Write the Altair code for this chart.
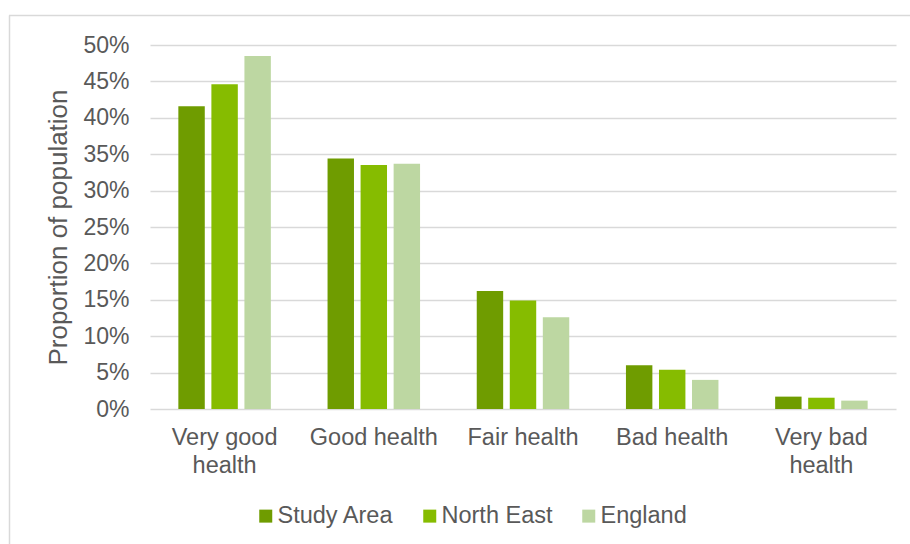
import altair as alt
import pandas as pd

categories = ["Very good health", "Good health", "Fair health", "Bad health", "Very bad health"]
label_lines = {
    "Very good health": ["Very good", "health"],
    "Very bad health": ["Very bad", "health"],
}
series = ["Study Area", "North East", "England"]
study_area = [0.416, 0.344, 0.162, 0.060, 0.017]
north_east = [0.446, 0.335, 0.149, 0.054, 0.0155]
england = [0.485, 0.337, 0.126, 0.040, 0.0115]
colors = ["#6f9c00", "#86bc00", "#bdd7a2"]
y_ticks = [0, 0.05, 0.10, 0.15, 0.20, 0.25, 0.30, 0.35, 0.40, 0.45, 0.50]

rows = []
for name, vals in zip(series, [study_area, north_east, england]):
    for c, v in zip(categories, vals):
        rows.append({"category": c, "series": name, "value": v})
df = pd.DataFrame(rows)

expr = "datum.value"
for k, lines in label_lines.items():
    expr = f"datum.value == '{k}' ? {lines} : ({expr})"

FONT = "Liberation Sans"
TXT = "#595959"
GRID = "#d9d9d9"

bars = alt.Chart(df).mark_bar().encode(
    x=alt.X("category:N", sort=categories, title=None,
            scale=alt.Scale(paddingInner=0.38, paddingOuter=0.19),
            axis=alt.Axis(labelAngle=0, labelExpr=expr, labelFontSize=23.5,
                          labelColor=TXT, labelFont=FONT, labelPadding=28,
                          labelLineHeight=28, ticks=False, domain=False,
                          labelBaseline="middle")),
    xOffset=alt.XOffset("series:N", sort=series,
                        scale=alt.Scale(paddingInner=0.2, paddingOuter=0)),
    y=alt.Y("value:Q", title="Proportion of population",
            scale=alt.Scale(domain=[0, 0.5], nice=False),
            axis=alt.Axis(values=y_ticks, format=".0%", labelFontSize=23,
                          labelColor=TXT, labelFont=FONT, labelPadding=21,
                          ticks=False, domain=False, gridColor=GRID,
                          gridWidth=1.5, titleFontSize=26, titleColor=TXT,
                          titleFont=FONT, titleFontWeight="normal",
                          titlePadding=11)),
    color=alt.Color("series:N", sort=series, title=None,
                    scale=alt.Scale(domain=series, range=colors),
                    legend=alt.Legend(orient="none", direction="horizontal",
                                      legendX=104, legendY=459,
                                      symbolType="square", symbolSize=169,
                                      symbolStrokeWidth=0,
                                      labelFontSize=23.5, labelColor=TXT,
                                      labelFont=FONT, labelOffset=0,
                                      columnPadding=24)),
)

frame_v = alt.Chart(alt.Data(values=[{}])).mark_rule(color=GRID, strokeWidth=1.5).encode(
    x=alt.value(-140.5), y=alt.value(-29.5), y2=alt.value(700))
frame_h = alt.Chart(alt.Data(values=[{}])).mark_rule(color=GRID, strokeWidth=1.5).encode(
    x=alt.value(-141), x2=alt.value(900), y=alt.value(-29.5))

chart = alt.layer(frame_v, frame_h, bars).properties(
    width=746, height=364,
    autosize=alt.AutoSizeParams(type="none"),
    padding={"left": 150, "top": 45, "right": 14, "bottom": 135},
).configure(background="white", view=alt.ViewConfig(stroke=None))

chart.save("out.html", embed_options={"renderer": "svg", "actions": False})
